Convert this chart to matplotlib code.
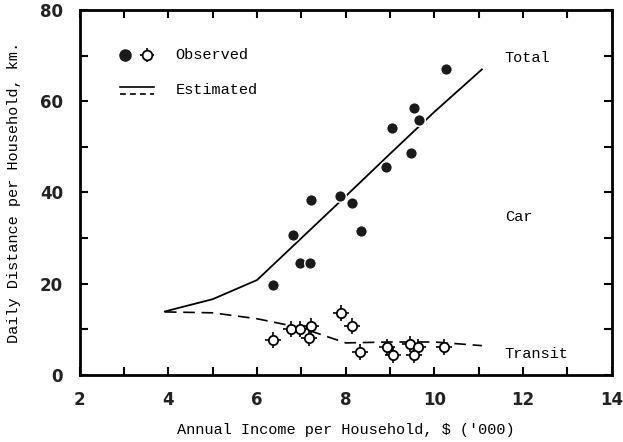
import matplotlib.pyplot as plt
from matplotlib.lines import Line2D

# observed total distance (filled circles)
total_inc = [6.37, 6.80, 6.97, 7.19, 7.21, 7.88, 8.15, 8.34, 8.91, 9.05, 9.47, 9.55, 9.66, 10.27]
total_obs = [19.6, 30.7, 24.5, 24.5, 38.4, 39.3, 37.6, 31.6, 45.6, 54.2, 48.7, 58.6, 55.8, 67.0]

# observed transit distance (open markers)
transit_inc = [6.35, 6.76, 6.97, 7.21, 7.17, 7.89, 8.13, 8.32, 8.94, 9.06, 9.44, 9.62, 9.53, 10.22]
transit_obs = [7.7, 10.0, 10.0, 10.7, 8.0, 13.5, 10.6, 5.1, 6.0, 4.4, 6.7, 6.0, 4.4, 6.0]

# estimated curves
est_inc = [3.92, 5, 6, 7, 8, 9, 10, 11.07]
est_total = [13.9, 16.6, 20.8, 30.0, 39.2, 48.5, 57.7, 67.0]
est_transit = [13.8, 13.6, 12.3, 10.3, 7.0, 7.2, 7.2, 6.4]

xticks = [2, 4, 6, 8, 10, 12, 14]
yticks = [0, 20, 40, 60, 80]

mono = "Liberation Mono"
num_font = dict(family="DejaVu Sans", weight="bold", size=12, color="#222222")

fig = plt.figure(figsize=(6.23, 4.42), dpi=100)
ax = fig.add_axes([0.128, 0.152, 0.854, 0.825])

ax.plot(est_inc, est_total, color="black", lw=1.3, zorder=2)
ax.plot(est_inc, est_transit, color="black", lw=1.2, ls=(0, (7, 4)), zorder=2)

ax.scatter(total_inc, total_obs, s=70, color="#1a1a1a", edgecolors="white",
           linewidths=1.0, zorder=4)
ax.scatter(transit_inc, transit_obs, s=120, marker="+", color="black",
           linewidths=1.2, zorder=4)
ax.scatter(transit_inc, transit_obs, s=45, marker="o", facecolors="white",
           edgecolors="black", linewidths=1.3, zorder=5)

ax.text(12.1, 69.6, "Total", family=mono, fontsize=11, ha="center", va="center")
ax.text(11.9, 34.7, "Car", family=mono, fontsize=11, ha="center", va="center")
ax.text(12.3, 4.5, "Transit", family=mono, fontsize=11, ha="center", va="center")

# key in the upper left corner
tr = ax.transAxes
ax.add_line(Line2D([0.086], [0.877], marker="o", ms=8, color="#1a1a1a", transform=tr))
ax.add_line(Line2D([0.126], [0.877], marker="+", ms=10, mew=1.2, color="black", transform=tr))
ax.add_line(Line2D([0.126], [0.877], marker="o", ms=7, mfc="white", mec="black",
                   mew=1.3, transform=tr))
ax.text(0.18, 0.877, "Observed", family=mono, fontsize=11, va="center", transform=tr)
ax.add_line(Line2D([0.075, 0.14], [0.789, 0.789], color="black", lw=1.2, transform=tr))
ax.add_line(Line2D([0.075, 0.14], [0.769, 0.769], color="black", lw=1.2,
                   ls=(0, (3.5, 2.5)), transform=tr))
ax.text(0.18, 0.782, "Estimated", family=mono, fontsize=11, va="center", transform=tr)

ax.set_xlim(2, 14)
ax.set_ylim(0, 80)
ax.set_xticks(range(2, 15))
ax.set_xticklabels([str(v) if v in xticks else "" for v in range(2, 15)], **num_font)
ax.set_yticks(range(0, 81, 10))
ax.set_yticklabels([str(v) if v in yticks else "" for v in range(0, 81, 10)], **num_font)
ax.tick_params(direction="in", length=6, width=1.5, top=True, right=True, pad=12)

for s in ax.spines.values():
    s.set_linewidth(2)

ax.set_xlabel("Annual Income per Household, $ ('000)", family=mono, fontsize=11, labelpad=10)
ax.set_ylabel("Daily Distance per Household, km.", family=mono, fontsize=11, labelpad=14)

fig.savefig("out.png", dpi=100)
